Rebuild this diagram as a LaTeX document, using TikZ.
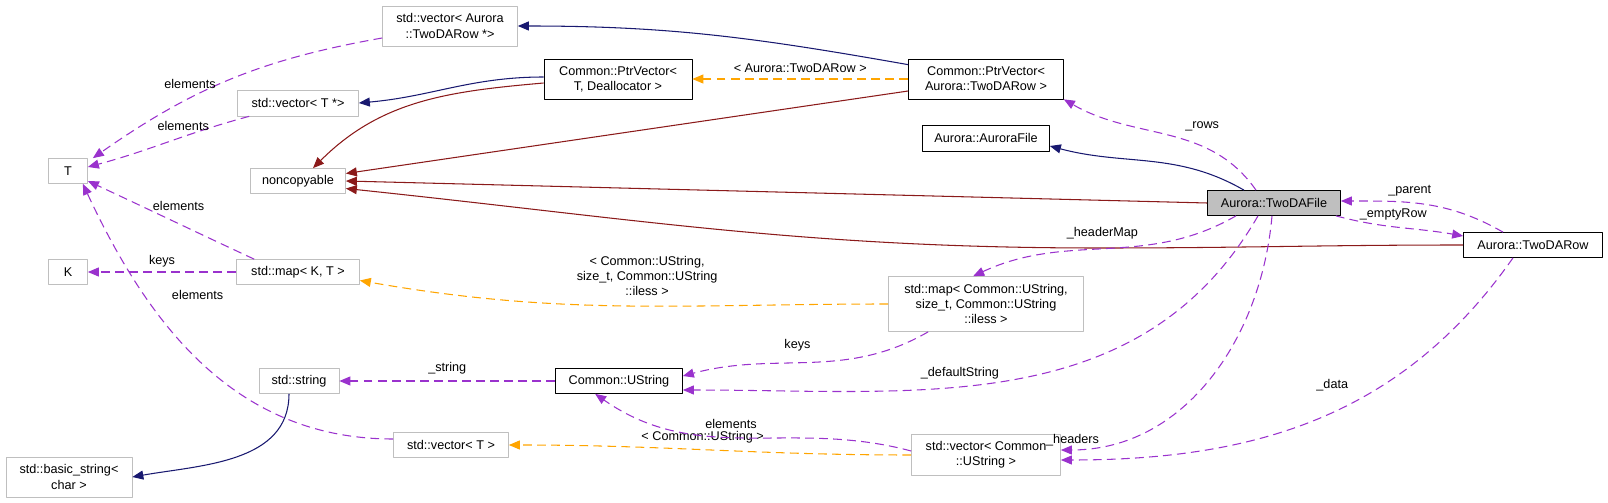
\documentclass[tikz,border=0pt]{standalone}
\usepackage{fontspec}
\setmainfont{Liberation Sans}
\usetikzlibrary{arrows.meta}
\definecolor{navy}{RGB}{25,25,112}
\definecolor{brick}{RGB}{139,26,26}
\definecolor{orchid}{RGB}{154,50,205}
\definecolor{amber}{RGB}{255,165,0}
\definecolor{boxgray}{RGB}{191,191,191}
\tikzset{
  box/.style={draw, inner sep=0pt, align=center, font=\fontsize{7.2}{8.6}\selectfont},
  ghost/.style={box, draw=boxgray},
  tip/.style={-{Triangle[length=0.22cm,width=0.18cm]}},
  inherit/.style={tip, navy, semithick},
  privinh/.style={tip, brick, semithick},
  usage/.style={tip, orchid, dashed, semithick, dash pattern=on 5pt off 3pt},
  templ/.style={tip, amber, dashed, semithick, dash pattern=on 5pt off 3pt},
  lbl/.style={text=black, font=\fontsize{7.2}{8.6}\selectfont, align=center}
}
\begin{document}
\begin{tikzpicture}[x=0.02cm, y=-0.02cm, line join=round]
\useasboundingbox (0,0) rectangle (1608,503);

% classes
\node[ghost, minimum width=2.70cm, minimum height=0.80cm] (vecAR) at (450,26) {std::vector< Aurora\\::TwoDARow *>};
\node[ghost, minimum width=2.42cm, minimum height=0.52cm] (vecTp) at (298,103) {std::vector< T *>};
\node[ghost, minimum width=0.78cm, minimum height=0.50cm] (T) at (68,171) {T};
\node[ghost, minimum width=1.90cm, minimum height=0.50cm] (noncopy) at (298,181) {noncopyable};
\node[ghost, minimum width=0.78cm, minimum height=0.50cm] (K) at (68,272) {K};
\node[ghost, minimum width=2.46cm, minimum height=0.50cm] (mapKT) at (298,272) {std::map< K, T >};
\node[box, minimum width=2.96cm, minimum height=0.80cm] (ptrTD) at (618,79) {Common::PtrVector<\\T, Deallocator >};
\node[box, minimum width=3.10cm, minimum height=0.80cm] (ptrRow) at (986,79) {Common::PtrVector<\\Aurora::TwoDARow >};
\node[box, minimum width=2.54cm, minimum height=0.52cm] (afile) at (986,138) {Aurora::AuroraFile};
\node[box, fill=boxgray, minimum width=2.66cm, minimum height=0.50cm] (tdfile) at (1274,203) {Aurora::TwoDAFile};
\node[box, minimum width=2.78cm, minimum height=0.50cm] (tdrow) at (1533,245) {Aurora::TwoDARow};
\node[ghost, minimum width=3.90cm, minimum height=1.10cm] (mapCU) at (986,304) {std::map< Common::UString,\\size\_t, Common::UString\\::iless >};
\node[ghost, minimum width=1.60cm, minimum height=0.50cm] (sstr) at (299,381) {std::string};
\node[box, minimum width=2.54cm, minimum height=0.50cm] (ustr) at (619,381) {Common::UString};
\node[ghost, minimum width=2.30cm, minimum height=0.50cm] (vecT) at (451,445) {std::vector< T >};
\node[ghost, minimum width=2.98cm, minimum height=0.82cm] (vecCU) at (986,455) {std::vector< Common\\::UString >};
\node[ghost, minimum width=2.52cm, minimum height=0.80cm] (bstr) at (69,477) {std::basic\_string<\\char >};

% inheritance
\draw[inherit] (ptrRow.north west) ++(0,6) to[out=170,in=0] (vecAR.east);
\draw[inherit] (ptrTD.west) ++(0,-2) to[out=180,in=5] (vecTp.east);
\draw[inherit] (tdfile.north) ++(-30,0) to[out=150,in=-15] ([yshift=-0.16cm]afile.east);
\draw[inherit] (sstr.south) ++(-10,0) to[out=-90,in=10] (bstr.east);
\draw[privinh] (ptrTD.west) ++(0,4) to[out=185,in=45] ([xshift=0.3cm]noncopy.north);
\draw[privinh] (ptrRow.west) ++(0,12) -- ([yshift=0.15cm]noncopy.east);
\draw[privinh] (tdfile.west) -- (noncopy.east);
\draw[privinh] (tdrow.west) to[out=180,in=0] (1100,248) to[out=180,in=-6] ([yshift=-0.15cm]noncopy.east);

% template instances
\draw[templ] (ptrRow.west) -- node[lbl, above] {< Aurora::TwoDARow >} (ptrTD.east);
\draw[templ] (mapCU.west) to[out=180,in=-10] node[lbl, pos=0.45, above=2pt] {< Common::UString,\\size\_t, Common::UString\\::iless >} ([yshift=-0.17cm]mapKT.east);
\draw[templ] (vecCU.west) to[out=180,in=0] node[lbl, pos=0.52, above] {< Common::UString >} (vecT.east);

% members
\draw[usage] (tdfile.north) ++(-18,0) to[out=125,in=-30] node[lbl, pos=0.45, above right] {\_rows} (ptrRow.south east);
\draw[usage] (tdrow.north) ++(-30,0) to[out=150,in=0] node[lbl, pos=0.6, above] {\_parent} ([yshift=0.04cm]tdfile.east);
\draw[usage] (tdfile.south east) ++(-5,0) to[out=-15,in=170] node[lbl, pos=0.45, above] {\_emptyRow} ([yshift=0.18cm]tdrow.west);
\draw[usage] (tdfile.south) ++(-38,0) to[out=-150,in=25] node[lbl, pos=0.35, above left] {\_headerMap} ([xshift=1.7cm]mapCU.north west);
\draw[usage] (tdfile.south) ++(-16,0) to[out=-120,in=0] node[lbl, pos=0.45, left=22pt] {\_defaultString} ([yshift=-0.18cm]ustr.east);
\draw[usage] (tdfile.south) ++(-2,0) to[out=-95,in=0] node[lbl, pos=0.82, left=10pt] {\_headers} ([yshift=0.1cm]vecCU.east);
\draw[usage] (tdrow.south) ++(-20,0) to[out=-125,in=0] node[lbl, pos=0.35, left=16pt] {\_data} ([yshift=-0.1cm]vecCU.east);
\draw[usage] (mapCU.south west) ++(40,0) to[out=-150,in=15] node[lbl, pos=0.55, above=3pt] {keys} ([yshift=0.1cm]ustr.east);
\draw[usage] (ustr.west) -- node[lbl, above] {\_string} (sstr.east);
\draw[usage] (vecCU.west) ++(0,-4) to[out=165,in=-35] node[lbl, pos=0.55, above=1pt] {elements} ([xshift=0.8cm]ustr.south west);
\draw[usage] (vecAR.west) ++(0,12) to[out=190,in=35] node[lbl, pos=0.65, above=2pt] {elements} ([xshift=0.1cm]T.north east);
\draw[usage] (vecTp.south west) ++(12,0) to[out=195,in=15] node[lbl, pos=0.4, above] {elements} ([yshift=0.08cm]T.east);
\draw[usage] (mapKT.north west) ++(18,0) to[out=155,in=-25] node[lbl, pos=0.45, above=4pt] {elements} ([yshift=-0.2cm]T.east);
\draw[usage] (mapKT.west) -- node[lbl, above=-1pt] {keys} (K.east);
\draw[usage] (vecT.west) ++(0,-6) to[out=180,in=-65] node[lbl, pos=0.72, right=12pt] {elements} ([xshift=-0.1cm]T.south east);
\end{tikzpicture}
\end{document}
